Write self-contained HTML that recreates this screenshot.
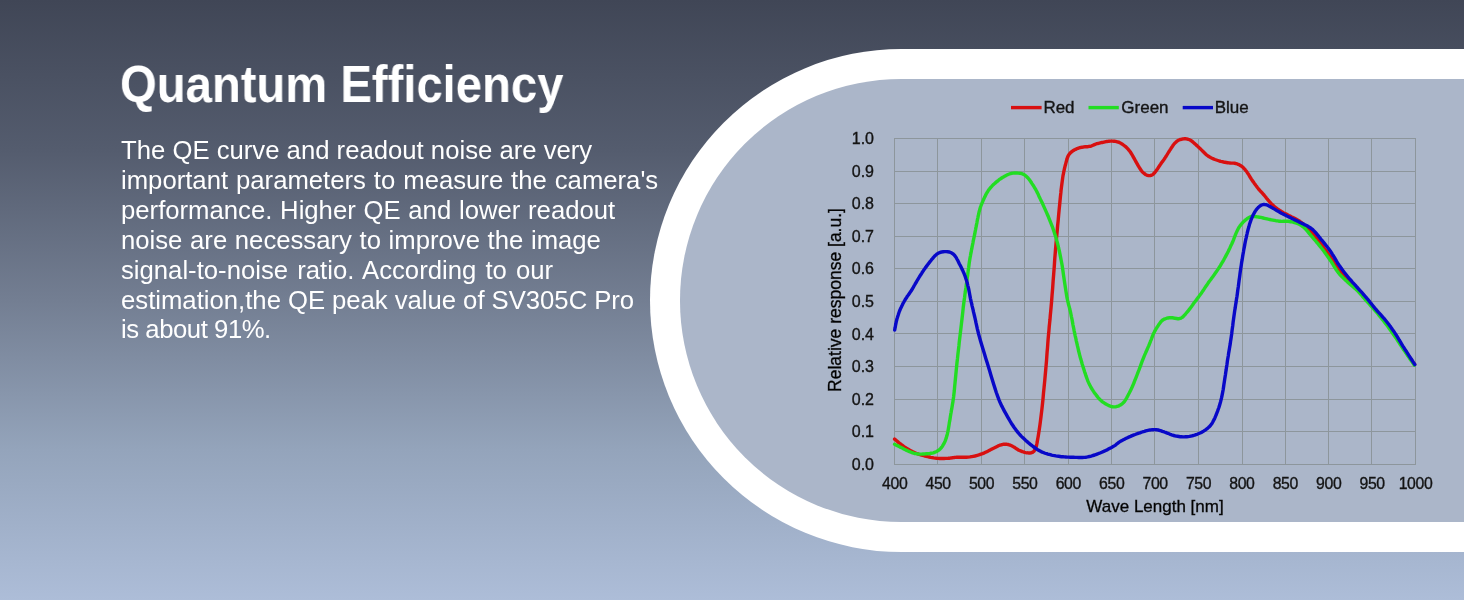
<!DOCTYPE html>
<html><head><meta charset="utf-8"><title>Quantum Efficiency</title>
<style>
html,body{margin:0;padding:0;}
body{width:1464px;height:600px;overflow:hidden;position:relative;
 background:linear-gradient(to bottom,#404656 0%,#545c6e 25%,#737e92 50%,#94a4bb 75%,#adbdd8 100%);
 font-family:"Liberation Sans",sans-serif;}
.outer{position:absolute;left:649.8px;top:48.6px;width:900px;height:503.4px;border-radius:251.7px 0 0 251.7px;background:#fff;}
.inner{position:absolute;left:680px;top:79px;width:900px;height:442.7px;border-radius:221.35px 0 0 221.35px;background:#abb6c9;}
h1{position:absolute;left:120px;top:54px;margin:0;font-size:52px;line-height:60px;font-weight:bold;color:#fff;
 white-space:nowrap;transform-origin:0 0;transform:scaleX(0.908);will-change:transform;}
p{position:absolute;left:121px;top:136px;margin:0;font-size:25.7px;line-height:29.9px;color:#fff;white-space:nowrap;will-change:transform;}
.chart{position:absolute;left:0;top:0;will-change:transform;}
</style></head><body>
<div class="outer"></div><div class="inner"></div>
<h1>Quantum Efficiency</h1>
<p><span>The QE curve and readout noise are very</span><br><span style="word-spacing:0.8px;">important parameters to measure the camera's</span><br><span style="word-spacing:0.6px;">performance. Higher QE and lower readout</span><br><span style="word-spacing:0.5px;">noise are necessary to improve the image</span><br><span style="word-spacing:2px;">signal-to-noise ratio. According to our</span><br><span style="word-spacing:-0.15px;">estimation,the QE peak value of SV305C Pro</span><br><span style="letter-spacing:-0.45px;">is about 91%.</span></p>
<svg class="chart" width="1464" height="600" viewBox="0 0 1464 600" font-family="Liberation Sans, sans-serif"><g><g stroke="#8d969c" stroke-width="1" shape-rendering="crispEdges"><line x1="894.5" y1="138.0" x2="894.5" y2="465.0"/><line x1="937.5" y1="138.0" x2="937.5" y2="465.0"/><line x1="981.5" y1="138.0" x2="981.5" y2="465.0"/><line x1="1024.5" y1="138.0" x2="1024.5" y2="465.0"/><line x1="1068.5" y1="138.0" x2="1068.5" y2="465.0"/><line x1="1111.5" y1="138.0" x2="1111.5" y2="465.0"/><line x1="1154.5" y1="138.0" x2="1154.5" y2="465.0"/><line x1="1198.5" y1="138.0" x2="1198.5" y2="465.0"/><line x1="1242.5" y1="138.0" x2="1242.5" y2="465.0"/><line x1="1285.5" y1="138.0" x2="1285.5" y2="465.0"/><line x1="1328.5" y1="138.0" x2="1328.5" y2="465.0"/><line x1="1371.5" y1="138.0" x2="1371.5" y2="465.0"/><line x1="1415.5" y1="138.0" x2="1415.5" y2="465.0"/><line x1="894.0" y1="138.5" x2="1416.0" y2="138.5"/><line x1="894.0" y1="171.5" x2="1416.0" y2="171.5"/><line x1="894.0" y1="203.5" x2="1416.0" y2="203.5"/><line x1="894.0" y1="236.5" x2="1416.0" y2="236.5"/><line x1="894.0" y1="268.5" x2="1416.0" y2="268.5"/><line x1="894.0" y1="301.5" x2="1416.0" y2="301.5"/><line x1="894.0" y1="333.5" x2="1416.0" y2="333.5"/><line x1="894.0" y1="366.5" x2="1416.0" y2="366.5"/><line x1="894.0" y1="399.5" x2="1416.0" y2="399.5"/><line x1="894.0" y1="431.5" x2="1416.0" y2="431.5"/><line x1="894.0" y1="464.5" x2="1416.0" y2="464.5"/></g></g><g stroke="#141414" stroke-width="0.35"><g font-size="16" fill="#141414"><text x="874" y="144.2" text-anchor="end">1.0</text><text x="874" y="176.8" text-anchor="end">0.9</text><text x="874" y="209.3" text-anchor="end">0.8</text><text x="874" y="241.8" text-anchor="end">0.7</text><text x="874" y="274.4" text-anchor="end">0.6</text><text x="874" y="306.9" text-anchor="end">0.5</text><text x="874" y="339.5" text-anchor="end">0.4</text><text x="874" y="372.1" text-anchor="end">0.3</text><text x="874" y="404.6" text-anchor="end">0.2</text><text x="874" y="437.1" text-anchor="end">0.1</text><text x="874" y="469.7" text-anchor="end">0.0</text></g><g font-size="15.8" fill="#141414" letter-spacing="-0.4"><text x="894.7" y="488.7" text-anchor="middle">400</text><text x="938.1" y="488.7" text-anchor="middle">450</text><text x="981.5" y="488.7" text-anchor="middle">500</text><text x="1024.9" y="488.7" text-anchor="middle">550</text><text x="1068.3" y="488.7" text-anchor="middle">600</text><text x="1111.7" y="488.7" text-anchor="middle">650</text><text x="1155.1" y="488.7" text-anchor="middle">700</text><text x="1198.5" y="488.7" text-anchor="middle">750</text><text x="1241.9" y="488.7" text-anchor="middle">800</text><text x="1285.3" y="488.7" text-anchor="middle">850</text><text x="1328.7" y="488.7" text-anchor="middle">900</text><text x="1372.1" y="488.7" text-anchor="middle">950</text><text x="1415.5" y="488.7" text-anchor="middle">1000</text></g><text x="1155" y="511.7" text-anchor="middle" font-size="17">Wave Length [nm]</text><text transform="translate(840.5,300) rotate(-90)" x="0" y="0" text-anchor="middle" font-size="17.5">Relative response [a.u.]</text><g stroke-width="3.4" stroke-linecap="butt"><line x1="1011" y1="107.6" x2="1041.6" y2="107.6" stroke="#d81010"/><line x1="1088.5" y1="107.6" x2="1118.8" y2="107.6" stroke="#22dd22"/><line x1="1182.7" y1="107.6" x2="1213" y2="107.6" stroke="#0808c8"/></g><g font-size="17" fill="#141414"><text x="1043.4" y="112.5">Red</text><text x="1121.3" y="112.5">Green</text><text x="1214.7" y="112.5">Blue</text></g></g><g fill="none" stroke-width="3.4" stroke-linejoin="round" stroke-linecap="round"><path d="M894.6,439.1 L895.5,439.8 L896.4,440.6 L897.3,441.3 L898.1,442.1 L899.0,442.8 L899.9,443.5 L900.8,444.2 L901.7,444.9 L902.6,445.5 L903.4,446.2 L904.3,446.8 L905.2,447.4 L906.0,448.0 L906.9,448.5 L907.8,449.1 L908.7,449.6 L909.6,450.1 L910.4,450.6 L911.3,451.0 L912.1,451.5 L913.0,451.9 L913.9,452.3 L914.8,452.7 L915.7,453.1 L916.8,453.5 L917.9,453.9 L919.0,454.3 L920.2,454.7 L921.4,455.0 L922.6,455.4 L923.8,455.7 L925.0,456.0 L926.4,456.3 L927.8,456.7 L929.2,457.0 L930.7,457.4 L932.2,457.6 L933.7,457.9 L935.1,458.1 L936.6,458.3 L938.1,458.4 L939.6,458.5 L941.1,458.5 L942.6,458.5 L944.1,458.5 L945.6,458.4 L947.0,458.4 L948.3,458.3 L949.2,458.2 L950.1,458.1 L950.9,458.0 L951.8,457.9 L952.6,457.7 L953.4,457.6 L954.3,457.5 L955.3,457.4 L956.9,457.3 L958.6,457.3 L960.5,457.3 L962.4,457.3 L964.4,457.3 L966.3,457.2 L968.2,457.1 L970.0,456.9 L971.6,456.6 L973.3,456.3 L974.9,456.0 L976.5,455.6 L978.0,455.2 L979.6,454.7 L981.0,454.2 L982.5,453.7 L983.8,453.2 L985.0,452.6 L986.2,452.0 L987.4,451.4 L988.6,450.8 L989.7,450.2 L990.9,449.6 L992.0,449.0 L993.0,448.5 L994.1,448.0 L995.1,447.4 L996.1,446.9 L997.1,446.4 L998.1,445.9 L999.1,445.5 L1000.0,445.2 L1000.7,445.0 L1001.3,444.8 L1001.9,444.6 L1002.5,444.5 L1003.1,444.4 L1003.7,444.3 L1004.4,444.2 L1005.0,444.2 L1005.7,444.2 L1006.4,444.3 L1007.2,444.4 L1007.9,444.5 L1008.7,444.7 L1009.4,445.0 L1010.2,445.2 L1011.0,445.5 L1012.1,446.0 L1013.1,446.6 L1014.3,447.3 L1015.4,448.0 L1016.5,448.8 L1017.7,449.5 L1018.8,450.2 L1020.0,450.7 L1021.1,451.1 L1022.3,451.6 L1023.5,451.9 L1024.6,452.3 L1025.8,452.6 L1026.9,452.8 L1027.9,452.9 L1028.9,453.0 L1029.5,453.0 L1030.1,453.0 L1030.6,452.9 L1031.1,452.8 L1031.6,452.6 L1032.1,452.5 L1032.6,452.3 L1033.0,452.0 L1033.4,451.7 L1033.8,451.4 L1034.1,451.0 L1034.4,450.6 L1034.7,450.1 L1035.0,449.6 L1035.2,449.1 L1035.5,448.5 L1035.9,447.5 L1036.3,446.3 L1036.6,445.0 L1036.9,443.7 L1037.2,442.2 L1037.4,440.7 L1037.7,439.1 L1038.0,437.5 L1038.4,435.1 L1038.8,432.6 L1039.2,430.0 L1039.6,427.2 L1040.0,424.4 L1040.4,421.4 L1040.8,418.2 L1041.2,415.0 L1041.8,410.1 L1042.4,404.7 L1043.0,399.0 L1043.5,393.1 L1044.1,387.1 L1044.7,381.2 L1045.2,375.5 L1045.7,370.0 L1046.1,365.4 L1046.5,360.9 L1046.8,356.5 L1047.1,352.1 L1047.5,347.8 L1047.8,343.6 L1048.1,339.3 L1048.5,335.0 L1048.9,330.9 L1049.2,327.0 L1049.6,323.1 L1050.0,319.3 L1050.3,315.3 L1050.7,311.3 L1051.1,307.0 L1051.5,302.5 L1052.0,295.9 L1052.6,288.9 L1053.1,281.4 L1053.7,273.8 L1054.3,266.1 L1054.8,258.4 L1055.4,251.0 L1056.0,244.0 L1056.5,238.0 L1057.1,232.0 L1057.6,226.0 L1058.2,220.1 L1058.7,214.4 L1059.2,209.1 L1059.7,204.3 L1060.1,200.0 L1060.3,197.9 L1060.5,195.9 L1060.7,194.1 L1060.9,192.4 L1061.0,190.8 L1061.2,189.2 L1061.4,187.6 L1061.6,186.0 L1061.8,184.5 L1062.0,183.0 L1062.2,181.5 L1062.4,180.0 L1062.6,178.6 L1062.8,177.1 L1063.0,175.7 L1063.3,174.3 L1063.6,172.9 L1063.8,171.6 L1064.1,170.3 L1064.4,168.9 L1064.7,167.6 L1065.0,166.3 L1065.4,165.1 L1065.7,163.8 L1066.0,162.6 L1066.3,161.5 L1066.6,160.3 L1067.0,159.1 L1067.3,158.0 L1067.7,157.0 L1068.1,156.0 L1068.6,155.1 L1069.0,154.5 L1069.5,153.9 L1070.0,153.3 L1070.5,152.8 L1071.0,152.3 L1071.5,151.9 L1072.1,151.4 L1072.7,151.0 L1073.4,150.6 L1074.0,150.1 L1074.8,149.7 L1075.5,149.4 L1076.2,149.0 L1077.0,148.7 L1077.8,148.4 L1078.5,148.1 L1079.2,147.9 L1079.9,147.7 L1080.7,147.5 L1081.4,147.4 L1082.1,147.2 L1082.8,147.1 L1083.6,147.0 L1084.3,146.9 L1085.0,146.8 L1085.8,146.7 L1086.5,146.7 L1087.3,146.7 L1088.0,146.6 L1088.7,146.5 L1089.5,146.4 L1090.2,146.3 L1090.9,146.1 L1091.7,145.8 L1092.4,145.5 L1093.1,145.2 L1093.8,144.9 L1094.5,144.6 L1095.2,144.3 L1096.0,144.0 L1096.8,143.7 L1097.7,143.5 L1098.5,143.3 L1099.4,143.1 L1100.3,142.9 L1101.2,142.7 L1102.1,142.5 L1103.0,142.3 L1104.0,142.1 L1105.0,141.9 L1106.0,141.7 L1107.0,141.5 L1108.0,141.4 L1109.0,141.2 L1110.0,141.1 L1111.0,141.1 L1111.9,141.1 L1112.8,141.1 L1113.8,141.2 L1114.7,141.3 L1115.6,141.4 L1116.4,141.6 L1117.2,141.8 L1118.0,142.0 L1118.6,142.2 L1119.1,142.4 L1119.6,142.6 L1120.1,142.9 L1120.5,143.1 L1121.0,143.4 L1121.5,143.7 L1122.0,144.0 L1122.6,144.4 L1123.3,144.9 L1123.9,145.3 L1124.5,145.8 L1125.2,146.3 L1125.8,146.9 L1126.4,147.4 L1127.0,148.0 L1127.6,148.6 L1128.1,149.2 L1128.6,149.8 L1129.1,150.4 L1129.6,151.0 L1130.1,151.6 L1130.5,152.3 L1131.0,153.0 L1131.5,153.8 L1132.0,154.6 L1132.5,155.5 L1133.0,156.4 L1133.5,157.3 L1134.0,158.2 L1134.5,159.1 L1135.0,160.0 L1135.5,160.9 L1136.0,161.8 L1136.5,162.7 L1137.0,163.6 L1137.5,164.5 L1138.0,165.3 L1138.5,166.2 L1139.0,167.0 L1139.5,167.7 L1139.9,168.5 L1140.4,169.2 L1140.9,170.0 L1141.4,170.6 L1141.9,171.3 L1142.4,171.9 L1143.0,172.5 L1143.6,173.0 L1144.2,173.5 L1144.8,173.9 L1145.4,174.4 L1146.1,174.8 L1146.7,175.1 L1147.4,175.3 L1148.0,175.5 L1148.5,175.6 L1149.0,175.6 L1149.5,175.6 L1150.0,175.6 L1150.5,175.5 L1151.0,175.4 L1151.5,175.2 L1152.0,175.0 L1152.5,174.7 L1153.1,174.3 L1153.6,173.8 L1154.1,173.3 L1154.6,172.8 L1155.0,172.2 L1155.5,171.6 L1156.0,171.0 L1156.5,170.3 L1157.0,169.6 L1157.5,168.9 L1158.0,168.1 L1158.5,167.3 L1159.0,166.6 L1159.5,165.8 L1160.0,165.0 L1160.6,164.2 L1161.2,163.3 L1161.8,162.4 L1162.5,161.6 L1163.1,160.7 L1163.8,159.8 L1164.4,158.9 L1165.0,158.0 L1165.6,157.0 L1166.3,156.0 L1166.9,155.0 L1167.5,154.0 L1168.1,153.0 L1168.7,152.0 L1169.4,151.0 L1170.0,150.0 L1170.6,149.1 L1171.2,148.1 L1171.8,147.2 L1172.5,146.2 L1173.1,145.3 L1173.7,144.5 L1174.4,143.7 L1175.0,143.0 L1175.5,142.5 L1176.0,142.1 L1176.4,141.6 L1176.9,141.3 L1177.4,140.9 L1177.9,140.6 L1178.4,140.3 L1179.0,140.0 L1179.7,139.7 L1180.4,139.5 L1181.2,139.3 L1181.9,139.1 L1182.7,139.0 L1183.5,138.9 L1184.3,138.8 L1185.0,138.8 L1185.7,138.8 L1186.3,138.9 L1187.0,139.0 L1187.6,139.1 L1188.2,139.3 L1188.8,139.5 L1189.4,139.7 L1190.0,140.0 L1190.5,140.3 L1191.1,140.6 L1191.5,140.9 L1192.0,141.3 L1192.5,141.7 L1193.0,142.1 L1193.5,142.6 L1194.0,143.0 L1194.7,143.6 L1195.4,144.2 L1196.1,144.9 L1196.9,145.6 L1197.6,146.3 L1198.4,147.0 L1199.2,147.8 L1200.0,148.5 L1200.9,149.4 L1201.9,150.4 L1202.8,151.3 L1203.8,152.3 L1204.8,153.3 L1205.8,154.3 L1206.9,155.2 L1208.0,156.0 L1209.3,156.8 L1210.6,157.5 L1212.0,158.2 L1213.5,158.9 L1214.9,159.5 L1216.4,160.0 L1217.9,160.5 L1219.3,161.0 L1220.7,161.4 L1222.1,161.7 L1223.5,162.0 L1224.9,162.3 L1226.3,162.5 L1227.6,162.7 L1228.9,162.9 L1230.0,163.0 L1230.7,163.1 L1231.4,163.1 L1232.0,163.1 L1232.6,163.1 L1233.2,163.1 L1233.8,163.1 L1234.4,163.2 L1235.0,163.3 L1235.7,163.5 L1236.5,163.7 L1237.3,164.0 L1238.1,164.3 L1238.8,164.6 L1239.6,165.0 L1240.3,165.4 L1241.0,165.8 L1241.7,166.3 L1242.3,166.8 L1243.0,167.4 L1243.6,168.0 L1244.2,168.7 L1244.8,169.3 L1245.4,170.1 L1246.0,170.8 L1246.8,171.8 L1247.5,172.9 L1248.3,174.0 L1249.0,175.2 L1249.7,176.5 L1250.5,177.7 L1251.2,178.9 L1252.0,180.0 L1252.7,181.1 L1253.5,182.1 L1254.2,183.2 L1255.0,184.3 L1255.7,185.3 L1256.5,186.3 L1257.2,187.3 L1258.0,188.3 L1258.7,189.2 L1259.5,190.0 L1260.2,190.9 L1261.0,191.7 L1261.7,192.5 L1262.5,193.3 L1263.2,194.1 L1264.0,195.0 L1264.8,196.0 L1265.6,197.0 L1266.4,198.1 L1267.3,199.1 L1268.1,200.2 L1269.0,201.2 L1269.9,202.2 L1270.8,203.2 L1271.9,204.2 L1273.0,205.2 L1274.1,206.2 L1275.3,207.2 L1276.5,208.2 L1277.7,209.1 L1279.0,210.0 L1280.2,210.8 L1281.4,211.5 L1282.6,212.2 L1283.8,212.9 L1285.0,213.5 L1286.3,214.1 L1287.5,214.7 L1288.8,215.4 L1290.0,216.0 L1291.2,216.7 L1292.5,217.3 L1293.7,217.9 L1295.0,218.5 L1296.3,219.2 L1297.5,219.9 L1298.8,220.7 L1300.0,221.5 L1301.5,222.6 L1303.0,223.8 L1304.5,225.2 L1306.0,226.5 L1307.5,228.0 L1308.9,229.4 L1310.3,230.9 L1311.7,232.3 L1313.0,233.7 L1314.2,235.1 L1315.3,236.6 L1316.5,238.0 L1317.6,239.5 L1318.7,241.0 L1319.9,242.5 L1321.0,244.0 L1322.2,245.6 L1323.4,247.1 L1324.5,248.7 L1325.7,250.3 L1326.9,252.0 L1328.0,253.6 L1329.2,255.2 L1330.3,256.8 L1331.4,258.4 L1332.4,260.0 L1333.4,261.6 L1334.4,263.3 L1335.4,264.9 L1336.4,266.5 L1337.5,268.0 L1338.6,269.5 L1339.7,270.9 L1340.8,272.3 L1342.0,273.6 L1343.2,274.9 L1344.4,276.2 L1345.6,277.5 L1346.8,278.8 L1348.0,280.0 L1349.2,281.2 L1350.3,282.3 L1351.5,283.4 L1352.7,284.5 L1353.8,285.6 L1355.0,286.7 L1356.2,287.8 L1357.3,289.0 L1358.5,290.3 L1359.7,291.5 L1360.8,292.8 L1362.0,294.2 L1363.1,295.5 L1364.3,296.8 L1365.4,298.2 L1366.6,299.5 L1367.8,300.9 L1369.0,302.2 L1370.1,303.6 L1371.3,305.0 L1372.5,306.4 L1373.7,307.7 L1374.8,309.1 L1376.0,310.5 L1377.2,311.9 L1378.3,313.2 L1379.5,314.6 L1380.7,315.9 L1381.8,317.3 L1383.0,318.7 L1384.2,320.1 L1385.3,321.5 L1386.5,323.0 L1387.7,324.5 L1388.8,326.0 L1390.0,327.6 L1391.2,329.2 L1392.3,330.7 L1393.5,332.4 L1394.6,334.0 L1395.8,335.8 L1396.9,337.6 L1398.1,339.5 L1399.2,341.4 L1400.4,343.3 L1401.5,345.2 L1402.7,347.1 L1403.9,349.0 L1405.2,350.9 L1406.5,352.9 L1407.8,354.8 L1409.2,356.7 L1410.5,358.7 L1411.9,360.6 L1413.3,362.6 L1414.6,364.5" stroke="#d81010"/><path d="M894.6,444.3 L895.5,444.7 L896.4,445.2 L897.3,445.6 L898.2,446.0 L899.0,446.5 L899.9,446.9 L900.8,447.4 L901.7,447.8 L902.6,448.2 L903.4,448.7 L904.3,449.2 L905.2,449.6 L906.0,450.1 L906.9,450.5 L907.8,450.9 L908.7,451.3 L909.7,451.7 L910.7,452.1 L911.7,452.5 L912.7,452.8 L913.7,453.2 L914.7,453.5 L915.8,453.7 L916.8,453.9 L917.8,454.0 L918.8,454.1 L919.8,454.1 L920.9,454.1 L921.9,454.1 L922.9,454.0 L924.0,454.0 L925.0,453.9 L926.2,453.8 L927.3,453.7 L928.6,453.6 L929.8,453.5 L931.0,453.3 L932.2,453.1 L933.3,452.8 L934.3,452.5 L935.1,452.2 L935.9,451.8 L936.7,451.4 L937.4,451.0 L938.1,450.6 L938.8,450.1 L939.5,449.6 L940.1,449.0 L940.7,448.4 L941.3,447.7 L941.8,447.0 L942.4,446.3 L942.8,445.5 L943.3,444.7 L943.8,443.9 L944.2,443.1 L944.6,442.2 L945.1,441.2 L945.5,440.2 L945.8,439.2 L946.2,438.2 L946.5,437.1 L946.8,436.1 L947.1,435.0 L947.4,433.9 L947.6,432.7 L947.9,431.6 L948.1,430.4 L948.3,429.3 L948.5,428.1 L948.7,426.9 L948.9,425.7 L949.1,424.4 L949.3,423.1 L949.5,421.8 L949.8,420.5 L950.0,419.2 L950.2,417.8 L950.4,416.5 L950.6,415.2 L950.8,413.9 L951.1,412.5 L951.3,411.2 L951.5,409.8 L951.8,408.5 L952.0,407.2 L952.2,405.9 L952.4,404.7 L952.6,403.7 L952.7,402.8 L952.9,402.0 L953.0,401.1 L953.1,400.2 L953.3,399.3 L953.4,398.2 L953.6,397.0 L953.9,394.2 L954.3,390.8 L954.6,387.1 L955.0,383.1 L955.4,379.0 L955.8,374.8 L956.2,370.6 L956.6,366.6 L957.0,362.5 L957.5,358.4 L957.9,354.3 L958.4,350.1 L958.9,345.9 L959.3,341.7 L959.8,337.6 L960.3,333.4 L960.8,329.2 L961.3,324.9 L961.8,320.5 L962.3,316.2 L962.8,311.9 L963.2,307.8 L963.7,303.8 L964.2,300.0 L964.6,297.3 L964.9,294.6 L965.3,292.1 L965.6,289.7 L966.0,287.3 L966.3,284.9 L966.7,282.5 L967.0,280.0 L967.3,277.5 L967.7,274.9 L968.0,272.4 L968.3,269.8 L968.7,267.3 L969.0,264.8 L969.3,262.4 L969.7,260.0 L970.0,258.0 L970.4,256.1 L970.7,254.2 L971.1,252.4 L971.4,250.5 L971.8,248.7 L972.1,246.9 L972.5,245.0 L972.9,243.1 L973.2,241.2 L973.6,239.4 L974.0,237.5 L974.4,235.6 L974.8,233.7 L975.1,231.9 L975.5,230.0 L975.8,228.2 L976.2,226.4 L976.5,224.6 L976.9,222.8 L977.2,221.0 L977.5,219.3 L977.9,217.6 L978.2,216.0 L978.5,214.8 L978.8,213.5 L979.0,212.4 L979.3,211.2 L979.6,210.1 L979.9,209.0 L980.2,208.0 L980.5,207.0 L980.7,206.3 L981.0,205.6 L981.2,205.0 L981.5,204.4 L981.7,203.8 L982.0,203.2 L982.2,202.6 L982.5,202.0 L982.8,201.3 L983.1,200.6 L983.4,199.9 L983.7,199.3 L984.0,198.6 L984.3,197.9 L984.7,197.2 L985.0,196.5 L985.3,195.8 L985.7,195.1 L986.0,194.4 L986.4,193.7 L986.8,193.0 L987.2,192.3 L987.6,191.7 L988.0,191.0 L988.4,190.3 L988.9,189.7 L989.4,189.1 L989.9,188.4 L990.4,187.8 L990.9,187.2 L991.5,186.6 L992.0,186.0 L992.6,185.4 L993.2,184.8 L993.8,184.2 L994.4,183.7 L995.1,183.1 L995.7,182.6 L996.3,182.0 L997.0,181.5 L997.7,181.0 L998.3,180.5 L998.9,179.9 L999.6,179.4 L1000.3,178.9 L1001.0,178.5 L1001.7,178.0 L1002.5,177.5 L1003.5,176.9 L1004.6,176.3 L1005.7,175.7 L1006.9,175.1 L1008.1,174.5 L1009.3,174.0 L1010.5,173.6 L1011.7,173.3 L1012.9,173.1 L1014.2,173.0 L1015.6,172.9 L1016.9,173.0 L1018.2,173.1 L1019.5,173.2 L1020.6,173.4 L1021.7,173.7 L1022.4,173.9 L1023.1,174.2 L1023.7,174.5 L1024.3,174.8 L1024.9,175.2 L1025.5,175.7 L1026.1,176.1 L1026.7,176.7 L1027.7,177.7 L1028.8,179.0 L1029.9,180.4 L1031.0,182.0 L1032.0,183.6 L1033.1,185.2 L1034.1,186.8 L1035.0,188.3 L1035.8,189.7 L1036.5,191.0 L1037.2,192.4 L1037.9,193.7 L1038.5,195.1 L1039.1,196.5 L1039.8,197.9 L1040.5,199.4 L1041.4,201.2 L1042.3,203.1 L1043.2,205.1 L1044.1,207.1 L1045.0,209.1 L1045.9,211.1 L1046.8,213.1 L1047.6,215.0 L1048.4,216.8 L1049.1,218.6 L1049.8,220.4 L1050.5,222.1 L1051.2,223.9 L1051.9,225.7 L1052.6,227.4 L1053.2,229.2 L1053.8,230.9 L1054.4,232.7 L1054.9,234.4 L1055.5,236.1 L1056.0,237.8 L1056.5,239.6 L1057.0,241.4 L1057.5,243.3 L1058.1,245.6 L1058.6,248.0 L1059.2,250.4 L1059.7,252.9 L1060.2,255.4 L1060.7,257.9 L1061.2,260.5 L1061.7,263.0 L1062.2,265.7 L1062.6,268.5 L1063.0,271.3 L1063.4,274.2 L1063.8,277.0 L1064.2,279.8 L1064.6,282.4 L1065.0,285.0 L1065.3,287.0 L1065.6,289.0 L1065.9,290.9 L1066.2,292.8 L1066.5,294.7 L1066.8,296.5 L1067.1,298.2 L1067.5,300.0 L1067.8,301.5 L1068.2,302.9 L1068.5,304.3 L1068.9,305.7 L1069.3,307.1 L1069.6,308.5 L1070.0,310.0 L1070.4,311.6 L1070.9,314.0 L1071.4,316.6 L1072.0,319.3 L1072.5,322.1 L1073.0,325.0 L1073.6,327.8 L1074.1,330.6 L1074.7,333.3 L1075.2,335.8 L1075.8,338.3 L1076.3,340.8 L1076.9,343.3 L1077.4,345.7 L1078.0,348.1 L1078.5,350.5 L1079.1,352.8 L1079.6,354.8 L1080.1,356.7 L1080.6,358.6 L1081.2,360.5 L1081.7,362.3 L1082.2,364.2 L1082.8,366.0 L1083.4,367.9 L1084.0,369.8 L1084.6,371.8 L1085.3,373.7 L1085.9,375.7 L1086.6,377.6 L1087.3,379.5 L1088.0,381.4 L1088.8,383.1 L1089.5,384.6 L1090.3,386.0 L1091.0,387.4 L1091.8,388.8 L1092.7,390.1 L1093.5,391.4 L1094.4,392.7 L1095.3,393.9 L1096.2,395.0 L1097.0,396.2 L1097.9,397.3 L1098.8,398.3 L1099.8,399.4 L1100.8,400.3 L1101.8,401.3 L1102.9,402.1 L1104.1,402.9 L1105.4,403.8 L1106.8,404.6 L1108.2,405.3 L1109.6,405.9 L1111.0,406.4 L1112.4,406.8 L1113.7,406.9 L1114.8,406.9 L1116.0,406.7 L1117.1,406.4 L1118.2,406.1 L1119.3,405.6 L1120.4,405.0 L1121.4,404.3 L1122.4,403.6 L1123.5,402.5 L1124.6,401.3 L1125.5,399.9 L1126.5,398.3 L1127.3,396.7 L1128.2,395.0 L1129.1,393.3 L1129.9,391.7 L1130.8,389.9 L1131.7,388.1 L1132.5,386.3 L1133.3,384.4 L1134.1,382.5 L1134.8,380.5 L1135.6,378.6 L1136.4,376.6 L1137.2,374.5 L1138.0,372.3 L1138.9,370.2 L1139.7,368.0 L1140.5,365.8 L1141.3,363.6 L1142.1,361.4 L1142.9,359.3 L1143.7,357.3 L1144.5,355.4 L1145.4,353.4 L1146.2,351.5 L1147.1,349.6 L1147.9,347.7 L1148.7,345.9 L1149.4,344.1 L1150.0,342.7 L1150.5,341.2 L1151.1,339.8 L1151.6,338.5 L1152.1,337.1 L1152.6,335.8 L1153.1,334.5 L1153.7,333.3 L1154.2,332.3 L1154.7,331.2 L1155.3,330.3 L1155.8,329.3 L1156.4,328.4 L1156.9,327.5 L1157.5,326.6 L1158.1,325.7 L1158.6,324.9 L1159.2,324.1 L1159.7,323.3 L1160.3,322.6 L1160.8,321.8 L1161.4,321.2 L1162.1,320.5 L1162.8,320.0 L1163.6,319.5 L1164.3,319.1 L1165.2,318.8 L1166.1,318.5 L1167.0,318.2 L1167.9,318.0 L1168.8,317.8 L1169.8,317.7 L1171.0,317.7 L1172.3,317.8 L1173.7,318.0 L1175.1,318.3 L1176.5,318.5 L1177.8,318.7 L1179.1,318.7 L1180.3,318.4 L1181.3,317.9 L1182.3,317.3 L1183.2,316.6 L1184.0,315.7 L1184.8,314.8 L1185.7,313.8 L1186.5,312.8 L1187.3,311.9 L1188.2,310.8 L1189.1,309.7 L1190.0,308.6 L1190.8,307.4 L1191.7,306.2 L1192.6,305.0 L1193.4,303.8 L1194.3,302.6 L1195.2,301.4 L1196.1,300.3 L1196.9,299.1 L1197.8,297.9 L1198.7,296.8 L1199.6,295.6 L1200.4,294.4 L1201.3,293.2 L1202.2,291.9 L1203.0,290.7 L1203.9,289.4 L1204.7,288.1 L1205.6,286.8 L1206.5,285.5 L1207.4,284.2 L1208.3,282.8 L1209.4,281.2 L1210.6,279.7 L1211.8,278.0 L1213.0,276.4 L1214.2,274.8 L1215.4,273.1 L1216.5,271.5 L1217.6,269.9 L1218.6,268.4 L1219.5,267.0 L1220.4,265.6 L1221.2,264.2 L1222.1,262.7 L1222.9,261.3 L1223.8,259.8 L1224.6,258.3 L1225.5,256.6 L1226.4,254.9 L1227.3,253.2 L1228.2,251.5 L1229.0,249.7 L1229.9,247.9 L1230.7,246.1 L1231.6,244.3 L1232.5,242.3 L1233.4,240.1 L1234.2,238.0 L1235.0,235.8 L1235.9,233.6 L1236.8,231.6 L1237.7,229.7 L1238.6,228.0 L1239.3,226.9 L1240.0,225.9 L1240.7,225.0 L1241.4,224.1 L1242.1,223.3 L1242.9,222.5 L1243.6,221.7 L1244.4,221.0 L1245.1,220.3 L1245.9,219.7 L1246.7,219.0 L1247.5,218.4 L1248.3,217.9 L1249.1,217.4 L1249.9,217.0 L1250.8,216.7 L1251.7,216.5 L1252.6,216.4 L1253.5,216.4 L1254.4,216.5 L1255.4,216.6 L1256.3,216.7 L1257.3,216.9 L1258.3,217.0 L1259.5,217.2 L1260.7,217.4 L1261.9,217.7 L1263.2,218.0 L1264.4,218.3 L1265.7,218.6 L1267.0,218.9 L1268.3,219.2 L1269.8,219.5 L1271.3,219.8 L1272.8,220.1 L1274.3,220.4 L1275.9,220.7 L1277.4,220.9 L1278.8,221.2 L1280.2,221.3 L1281.3,221.4 L1282.3,221.4 L1283.3,221.3 L1284.3,221.3 L1285.3,221.2 L1286.3,221.2 L1287.3,221.2 L1288.3,221.3 L1289.5,221.5 L1290.7,221.7 L1291.9,221.9 L1293.1,222.2 L1294.3,222.5 L1295.5,222.8 L1296.6,223.2 L1297.7,223.6 L1298.5,223.9 L1299.3,224.3 L1300.0,224.7 L1300.7,225.1 L1301.4,225.5 L1302.1,226.0 L1302.8,226.5 L1303.5,227.1 L1304.5,228.0 L1305.5,229.0 L1306.5,230.2 L1307.6,231.4 L1308.6,232.6 L1309.6,233.9 L1310.7,235.2 L1311.7,236.4 L1312.8,237.7 L1314.0,239.1 L1315.2,240.4 L1316.3,241.8 L1317.5,243.2 L1318.7,244.6 L1319.9,246.1 L1321.0,247.5 L1322.2,249.0 L1323.4,250.6 L1324.6,252.2 L1325.7,253.8 L1326.9,255.4 L1328.0,257.1 L1329.2,258.7 L1330.3,260.3 L1331.4,261.9 L1332.4,263.5 L1333.4,265.2 L1334.4,266.8 L1335.4,268.4 L1336.4,270.0 L1337.5,271.5 L1338.6,273.0 L1339.7,274.3 L1340.8,275.5 L1342.0,276.7 L1343.2,277.9 L1344.4,279.0 L1345.6,280.2 L1346.8,281.3 L1348.0,282.4 L1349.2,283.5 L1350.3,284.5 L1351.5,285.5 L1352.7,286.5 L1353.8,287.4 L1355.0,288.5 L1356.2,289.5 L1357.3,290.6 L1358.5,291.8 L1359.7,293.1 L1360.8,294.4 L1362.0,295.7 L1363.1,297.1 L1364.3,298.4 L1365.4,299.8 L1366.6,301.1 L1367.8,302.4 L1369.0,303.7 L1370.1,305.0 L1371.3,306.3 L1372.5,307.6 L1373.7,308.9 L1374.8,310.3 L1376.0,311.6 L1377.2,313.0 L1378.4,314.4 L1379.5,315.9 L1380.7,317.3 L1381.8,318.8 L1383.0,320.2 L1384.2,321.7 L1385.3,323.2 L1386.5,324.8 L1387.7,326.3 L1388.8,327.9 L1390.0,329.5 L1391.1,331.1 L1392.3,332.7 L1393.5,334.4 L1394.6,336.0 L1395.8,337.7 L1396.9,339.4 L1398.1,341.2 L1399.2,342.9 L1400.4,344.7 L1401.5,346.4 L1402.7,348.2 L1403.9,350.0 L1405.2,351.9 L1406.5,353.8 L1407.8,355.7 L1409.1,357.6 L1410.4,359.5 L1411.8,361.4 L1413.1,363.3 L1414.4,365.2" stroke="#22dd22"/><path d="M894.7,330.0 L894.9,328.7 L895.2,327.5 L895.4,326.2 L895.6,325.0 L895.9,323.7 L896.1,322.5 L896.4,321.2 L896.7,320.0 L897.0,318.7 L897.4,317.5 L897.8,316.2 L898.2,315.0 L898.6,313.7 L899.0,312.5 L899.5,311.2 L900.0,310.0 L900.5,308.7 L901.1,307.5 L901.7,306.2 L902.3,305.0 L902.9,303.7 L903.6,302.5 L904.3,301.2 L905.0,300.0 L905.8,298.7 L906.6,297.5 L907.4,296.2 L908.3,295.0 L909.2,293.7 L910.0,292.5 L910.9,291.3 L911.7,290.0 L912.5,288.8 L913.2,287.5 L913.9,286.2 L914.6,285.0 L915.3,283.7 L916.1,282.5 L916.8,281.2 L917.5,280.0 L918.2,278.8 L918.9,277.7 L919.6,276.5 L920.3,275.4 L921.1,274.2 L921.8,273.1 L922.5,271.9 L923.3,270.8 L924.1,269.6 L924.9,268.5 L925.7,267.3 L926.6,266.2 L927.4,265.0 L928.3,263.9 L929.1,262.8 L930.0,261.7 L930.8,260.7 L931.6,259.6 L932.5,258.6 L933.3,257.6 L934.2,256.6 L935.0,255.7 L935.9,254.9 L936.7,254.2 L937.3,253.8 L937.9,253.4 L938.5,253.1 L939.1,252.8 L939.7,252.6 L940.4,252.3 L941.0,252.2 L941.7,252.0 L942.6,251.8 L943.5,251.7 L944.5,251.6 L945.5,251.6 L946.5,251.6 L947.4,251.7 L948.3,251.8 L949.2,252.0 L949.9,252.2 L950.6,252.5 L951.2,252.8 L951.8,253.1 L952.4,253.5 L953.0,253.9 L953.6,254.4 L954.2,255.0 L955.0,255.9 L955.8,257.0 L956.5,258.2 L957.2,259.5 L958.0,260.9 L958.6,262.3 L959.3,263.7 L960.0,265.0 L960.7,266.3 L961.4,267.7 L962.0,269.1 L962.7,270.4 L963.3,271.8 L963.9,273.2 L964.5,274.6 L965.0,276.0 L965.5,277.4 L965.9,278.7 L966.4,280.1 L966.8,281.4 L967.1,282.8 L967.5,284.2 L967.8,285.6 L968.2,287.0 L968.6,288.6 L968.9,290.1 L969.2,291.7 L969.5,293.3 L969.8,295.0 L970.1,296.6 L970.4,298.3 L970.8,300.0 L971.2,301.9 L971.7,303.9 L972.1,305.8 L972.6,307.8 L973.1,309.9 L973.5,311.9 L974.0,313.9 L974.5,316.0 L975.0,318.2 L975.5,320.3 L975.9,322.4 L976.4,324.6 L976.9,326.8 L977.4,329.1 L978.0,331.5 L978.6,334.0 L979.6,337.6 L980.7,341.5 L981.9,345.6 L983.2,349.8 L984.5,354.1 L985.8,358.4 L987.1,362.6 L988.4,366.8 L989.7,371.0 L991.0,375.4 L992.3,379.8 L993.6,384.1 L995.0,388.4 L996.3,392.5 L997.7,396.3 L999.0,399.8 L999.9,402.0 L1000.8,404.0 L1001.7,405.9 L1002.6,407.6 L1003.5,409.4 L1004.4,411.1 L1005.4,412.9 L1006.4,414.7 L1007.6,416.8 L1008.8,418.9 L1010.0,421.0 L1011.3,423.2 L1012.7,425.3 L1014.0,427.3 L1015.5,429.3 L1016.9,431.2 L1018.3,432.9 L1019.7,434.5 L1021.2,436.1 L1022.7,437.6 L1024.3,439.1 L1025.8,440.5 L1027.4,441.9 L1028.9,443.2 L1030.3,444.3 L1031.7,445.4 L1033.1,446.5 L1034.5,447.5 L1035.9,448.5 L1037.2,449.4 L1038.6,450.2 L1040.0,451.0 L1041.1,451.6 L1042.2,452.1 L1043.3,452.5 L1044.4,453.0 L1045.6,453.4 L1046.7,453.7 L1047.8,454.1 L1049.0,454.4 L1050.3,454.7 L1051.6,455.1 L1053.0,455.4 L1054.4,455.6 L1055.8,455.9 L1057.2,456.1 L1058.6,456.3 L1060.0,456.5 L1061.4,456.7 L1062.9,456.8 L1064.3,456.9 L1065.8,457.0 L1067.2,457.1 L1068.7,457.1 L1070.2,457.2 L1071.7,457.2 L1073.4,457.3 L1075.1,457.4 L1076.9,457.4 L1078.7,457.5 L1080.5,457.5 L1082.3,457.5 L1084.0,457.4 L1085.8,457.2 L1087.6,456.9 L1089.4,456.5 L1091.2,456.1 L1092.9,455.5 L1094.7,455.0 L1096.5,454.3 L1098.2,453.7 L1100.0,453.0 L1101.8,452.2 L1103.7,451.4 L1105.7,450.5 L1107.6,449.6 L1109.4,448.6 L1111.1,447.7 L1112.7,446.8 L1114.2,445.9 L1115.1,445.3 L1115.8,444.8 L1116.5,444.2 L1117.2,443.7 L1117.8,443.2 L1118.5,442.6 L1119.2,442.1 L1120.0,441.6 L1121.0,441.0 L1122.1,440.4 L1123.3,439.8 L1124.5,439.2 L1125.7,438.6 L1126.9,438.0 L1128.1,437.4 L1129.3,436.9 L1130.5,436.4 L1131.6,435.9 L1132.8,435.4 L1134.0,434.9 L1135.2,434.5 L1136.3,434.0 L1137.5,433.6 L1138.7,433.2 L1139.9,432.8 L1141.0,432.4 L1142.2,432.0 L1143.4,431.6 L1144.5,431.3 L1145.7,430.9 L1146.9,430.6 L1148.0,430.4 L1149.0,430.2 L1150.1,430.0 L1151.1,429.9 L1152.1,429.8 L1153.2,429.7 L1154.2,429.6 L1155.2,429.6 L1156.2,429.7 L1157.2,429.8 L1158.3,430.0 L1159.3,430.3 L1160.3,430.6 L1161.3,430.9 L1162.3,431.3 L1163.4,431.6 L1164.4,432.0 L1165.5,432.4 L1166.7,432.9 L1167.8,433.3 L1169.0,433.8 L1170.1,434.3 L1171.3,434.7 L1172.5,435.2 L1173.7,435.5 L1175.0,435.8 L1176.3,436.1 L1177.6,436.3 L1178.9,436.5 L1180.2,436.7 L1181.6,436.8 L1182.9,436.9 L1184.2,436.9 L1185.5,436.8 L1186.9,436.7 L1188.2,436.6 L1189.5,436.4 L1190.8,436.1 L1192.1,435.8 L1193.4,435.5 L1194.7,435.1 L1195.9,434.7 L1197.1,434.3 L1198.3,433.8 L1199.5,433.3 L1200.7,432.8 L1201.8,432.2 L1202.9,431.6 L1204.0,430.9 L1205.0,430.2 L1206.0,429.6 L1206.9,428.8 L1207.8,428.1 L1208.7,427.3 L1209.5,426.5 L1210.3,425.6 L1211.1,424.6 L1212.0,423.4 L1212.8,422.0 L1213.5,420.6 L1214.3,419.2 L1215.0,417.6 L1215.6,416.1 L1216.3,414.5 L1216.9,412.9 L1217.6,411.1 L1218.2,409.3 L1218.9,407.5 L1219.5,405.6 L1220.0,403.7 L1220.6,401.7 L1221.1,399.7 L1221.6,397.7 L1222.1,395.2 L1222.6,392.7 L1223.1,390.0 L1223.5,387.4 L1223.9,384.6 L1224.3,382.0 L1224.7,379.3 L1225.1,376.7 L1225.5,374.3 L1225.8,372.0 L1226.2,369.6 L1226.5,367.3 L1226.9,365.0 L1227.2,362.6 L1227.5,360.3 L1227.9,358.0 L1228.3,355.7 L1228.6,353.4 L1229.0,351.1 L1229.4,348.8 L1229.8,346.4 L1230.2,344.1 L1230.5,341.7 L1230.9,339.3 L1231.3,336.6 L1231.7,333.8 L1232.0,331.0 L1232.4,328.1 L1232.8,325.2 L1233.1,322.3 L1233.5,319.5 L1233.9,316.6 L1234.3,313.7 L1234.7,310.8 L1235.2,307.9 L1235.6,305.0 L1236.1,302.1 L1236.5,299.1 L1237.0,296.2 L1237.4,293.2 L1237.8,290.0 L1238.3,286.8 L1238.7,283.6 L1239.1,280.3 L1239.6,277.1 L1240.0,273.8 L1240.4,270.7 L1240.9,267.6 L1241.3,264.9 L1241.7,262.1 L1242.2,259.4 L1242.6,256.8 L1243.0,254.2 L1243.5,251.6 L1243.9,249.1 L1244.4,246.6 L1244.8,244.4 L1245.2,242.3 L1245.6,240.2 L1246.1,238.1 L1246.5,236.1 L1247.0,234.1 L1247.4,232.2 L1247.9,230.3 L1248.3,228.7 L1248.8,227.1 L1249.2,225.6 L1249.6,224.0 L1250.1,222.6 L1250.6,221.1 L1251.1,219.7 L1251.7,218.3 L1252.2,217.1 L1252.8,215.8 L1253.4,214.6 L1254.0,213.4 L1254.7,212.2 L1255.3,211.1 L1256.0,210.1 L1256.7,209.2 L1257.3,208.5 L1257.9,207.9 L1258.5,207.2 L1259.1,206.7 L1259.8,206.1 L1260.4,205.7 L1261.1,205.3 L1261.7,205.0 L1262.2,204.8 L1262.7,204.7 L1263.2,204.6 L1263.7,204.5 L1264.2,204.5 L1264.8,204.6 L1265.3,204.6 L1265.8,204.7 L1266.4,204.8 L1267.0,205.0 L1267.6,205.3 L1268.2,205.6 L1268.8,205.9 L1269.4,206.3 L1270.1,206.6 L1270.8,207.0 L1271.8,207.6 L1272.9,208.2 L1274.1,208.9 L1275.3,209.6 L1276.5,210.4 L1277.8,211.1 L1279.0,211.8 L1280.2,212.5 L1281.4,213.2 L1282.6,213.8 L1283.8,214.4 L1285.1,215.0 L1286.3,215.7 L1287.5,216.3 L1288.8,216.9 L1290.0,217.5 L1291.2,218.1 L1292.5,218.7 L1293.7,219.3 L1294.9,219.9 L1296.2,220.5 L1297.5,221.1 L1298.7,221.7 L1300.0,222.4 L1301.4,223.1 L1302.9,223.8 L1304.4,224.6 L1306.0,225.3 L1307.5,226.1 L1308.9,226.9 L1310.4,227.8 L1311.7,228.8 L1313.0,229.9 L1314.2,231.1 L1315.4,232.4 L1316.5,233.7 L1317.7,235.1 L1318.8,236.5 L1319.9,237.9 L1321.0,239.3 L1322.2,240.7 L1323.4,242.1 L1324.6,243.6 L1325.7,245.0 L1326.9,246.5 L1328.1,248.0 L1329.2,249.5 L1330.3,251.0 L1331.4,252.6 L1332.4,254.3 L1333.5,256.0 L1334.5,257.7 L1335.5,259.4 L1336.5,261.2 L1337.5,262.8 L1338.6,264.5 L1339.7,266.1 L1340.9,267.7 L1342.0,269.3 L1343.2,270.9 L1344.4,272.5 L1345.6,274.0 L1346.8,275.5 L1348.0,277.0 L1349.1,278.4 L1350.3,279.7 L1351.5,281.0 L1352.6,282.3 L1353.8,283.6 L1355.0,284.9 L1356.1,286.2 L1357.3,287.5 L1358.5,288.8 L1359.6,290.1 L1360.8,291.4 L1362.0,292.7 L1363.1,294.0 L1364.3,295.3 L1365.4,296.7 L1366.6,298.0 L1367.8,299.4 L1369.0,300.8 L1370.1,302.3 L1371.3,303.7 L1372.5,305.2 L1373.6,306.7 L1374.8,308.1 L1376.0,309.5 L1377.2,310.8 L1378.3,312.1 L1379.5,313.4 L1380.7,314.7 L1381.8,316.0 L1383.0,317.3 L1384.2,318.6 L1385.3,320.0 L1386.5,321.5 L1387.7,323.0 L1388.9,324.5 L1390.0,326.1 L1391.2,327.7 L1392.3,329.3 L1393.5,330.9 L1394.6,332.6 L1395.8,334.4 L1396.9,336.2 L1398.1,338.1 L1399.2,340.0 L1400.4,341.9 L1401.5,343.8 L1402.7,345.8 L1403.9,347.7 L1405.2,349.8 L1406.6,351.8 L1407.9,353.9 L1409.3,356.1 L1410.7,358.2 L1412.1,360.3 L1413.4,362.4 L1414.8,364.5" stroke="#0808c8"/></g></svg>
</body></html>
